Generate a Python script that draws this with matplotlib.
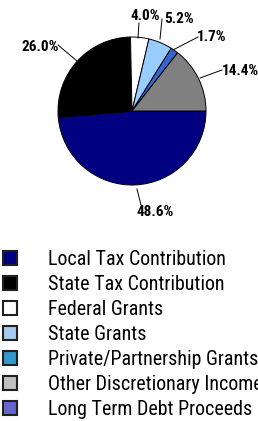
import matplotlib
matplotlib.use("Agg")
import matplotlib.pyplot as plt
from matplotlib.patches import Patch
from matplotlib import font_manager

categories = ["Local Tax Contribution", "State Tax Contribution", "Federal Grants",
              "State Grants", "Private/Partnership Grants", "Other Discretionary Income",
              "Long Term Debt Proceeds"]
values = [48.6, 26.0, 4.0, 5.2, 1.7, 14.4, 0.0]
value_labels = ["48.6%", "26.0%", "4.0%", "5.2%", "1.7%", "14.4%", ""]

pie_colors = ["#000080", "#000000", "#FFFFFF", "#99CCFF", "#3366CC", "#808080", "#6666CC"]
legend_colors = ["#000080", "#000000", "#FFFFFF", "#A6CAF0", "#3399CC", "#C0C0C0", "#6666CC"]

names = {f.name for f in font_manager.fontManager.ttflist}
narrow = "DejaVu Sans"
for cand in ["Liberation Sans Narrow", "Arial Narrow", "Roboto Condensed", "PT Sans Narrow",
             "Archivo Narrow", "Open Sans Condensed"]:
    if cand in names:
        narrow = cand
        break

W, H = 258, 421
fig = plt.figure(figsize=(W / 100, H / 100), dpi=100)

cx, cy, r = 132, 111, 74
ax = fig.add_axes([(cx - r) / W, (H - cy - r) / H, 2 * r / W, 2 * r / H])
nz = [i for i, v in enumerate(values) if v > 0]
wedges, _ = ax.pie([values[i] for i in nz], colors=[pie_colors[i] for i in nz],
                   startangle=0, counterclock=False, radius=1,
                   wedgeprops=dict(edgecolor="black", linewidth=0.7))
ax.set_xlim(-1, 1)
ax.set_ylim(-1, 1)
ax.set_aspect("equal")
ax.axis("off")

def px(x, y):
    return ((x - cx) / r, (cy - y) / r)

label_pos = {
    0: ((155, 212), (141, 205), (137, 189)),
    1: ((40, 47), (58, 45), (77, 61)),
    2: ((145, 16), (139, 23), (138, 38)),
    3: ((179, 19), (162, 19), (160, 39)),
    4: ((212, 37), (198, 37), (173, 50)),
    5: ((240, 71), (222, 70), (200, 78)),
}
for i, (tpos, lstart, lend) in label_pos.items():
    tx, ty = px(*tpos)
    ax.text(tx, ty, value_labels[i], ha="center", va="center", fontsize=11,
            fontweight="bold", family=narrow, clip_on=False)
    x0, y0 = px(*lstart)
    x1, y1 = px(*lend)
    ax.plot([x0, x1], [y0, y1], color="black", lw=0.7, clip_on=False)

handles = [Patch(facecolor=c, edgecolor="#202020", linewidth=1.5) for c in legend_colors]
fig.legend(handles, categories, loc="upper left", bbox_to_anchor=(3 / W, 1 - 250 / H),
           frameon=False, prop={"family": narrow, "size": 14.4},
           handlelength=0.72, handleheight=0.72, handletextpad=1.55,
           labelspacing=0.3, borderpad=0, borderaxespad=0)

fig.savefig("out.png", dpi=100)
